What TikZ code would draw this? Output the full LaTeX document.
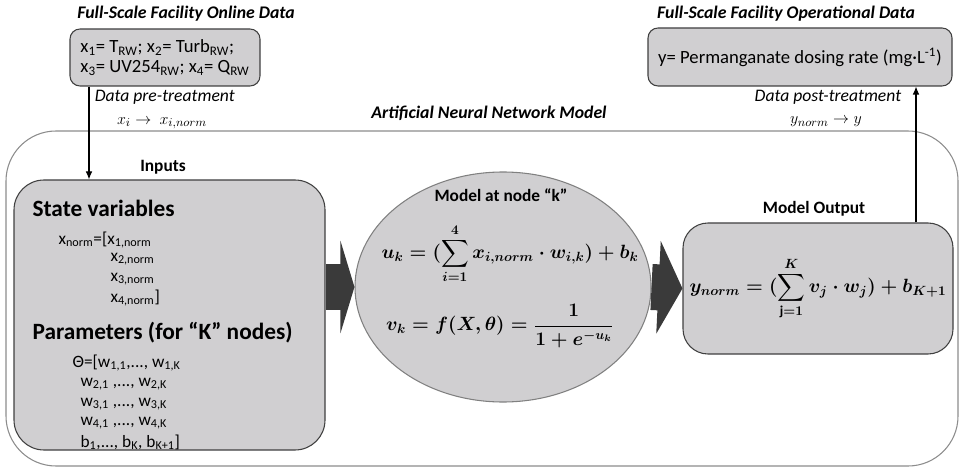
\documentclass[tikz,border=0pt]{standalone}
\usepackage{amsmath}
\usepackage{fontspec}
\setmainfont{Carlito}
\usetikzlibrary{positioning}
\usetikzlibrary{arrows.meta}
\usetikzlibrary{shapes.geometric}
\tikzset{>={Latex[width=5pt,length=6pt]}}

\definecolor{boxgray}{RGB}{208,207,209}
\definecolor{edgegray}{RGB}{64,64,64}
\definecolor{fatgray}{RGB}{58,58,58}
\definecolor{framegray}{RGB}{140,140,140}

\newcommand{\ukeq}{$\displaystyle u_k = (\sum_{i=1}^{4} x_{i,norm}\cdot w_{i,k}) + b_k$}
\newcommand{\vkeq}{$\displaystyle v_k = f(X,\theta) = \frac{1}{1+e^{-u_k}}$}
\newcommand{\ynormeq}{$\displaystyle y_{norm} = (\sum_{\mathrm{j}=1}^{K} v_j\cdot w_j) + b_{K+1}$}

\tikzset{
  databox/.style={draw=edgegray, fill=boxgray, line width=0.8pt, rounded corners=7.5pt, inner sep=0pt},
  head/.style={font=\fontsize{13}{15}\selectfont\bfseries, inner sep=1pt},
  big/.style={font=\fontsize{17.5}{20}\selectfont\bfseries, anchor=west, inner sep=0pt},
  item/.style={font=\fontsize{13}{15}\selectfont, anchor=west, inner sep=0pt},
  title/.style={font=\fontsize{13.3}{15}\selectfont\bfseries\itshape, inner sep=1pt},
  note/.style={font=\fontsize{13.2}{15}\selectfont\itshape, inner sep=1pt},
  eqn/.style={font=\fontsize{14.5}{17}\selectfont\boldmath, inner sep=0pt},
  fat/.style={line width=34.5pt, draw=fatgray, -{Triangle[length=#1,width=69pt]}}
}

\begin{document}
\begin{tikzpicture}[x=0.75pt, y=-0.75pt, line width=0.8pt]
\useasboundingbox (0,0) rectangle (959,470);

% data outside the model
\node (srctitle) [title] at (186,14) {Full-Scale Facility Online Data};
\node (src) [databox, minimum width=142.5pt, minimum height=42.75pt, align=left, font=\fontsize{14}{15}\selectfont] at (165,57.5)
  {x\textsubscript{1}= T\textsubscript{RW}; x\textsubscript{2}= Turb\textsubscript{RW};\\x\textsubscript{3}= UV254\textsubscript{RW}; x\textsubscript{4}= Q\textsubscript{RW}};
\node (dsttitle) [title] at (786,14) {Full-Scale Facility Operational Data};
\node (dst) [databox, minimum width=228pt, minimum height=43.5pt, font=\fontsize{14}{16}\selectfont] at (800,57)
  {y= Permanganate dosing rate (mg·L\textsuperscript{-1})};

\node (pre) [note, anchor=west] at (93,97) {Data pre-treatment};
\node (premath) [font=\fontsize{12.5}{14}\selectfont] at (162,123) {$x_i \rightarrow\ x_{i,norm}$};
\node (post) [note, anchor=east] at (903,97) {Data post-treatment};
\node (postmath) [font=\fontsize{13}{14}\selectfont] at (826,122) {$y_{norm} \rightarrow y$};

% model frame
\node (ann) [draw=framegray, rounded corners=37.5pt, minimum width=714pt, minimum height=251.25pt] at (482,298.5) {};
\node (anntitle) [title] at (489,113) {Artificial Neural Network Model};

% inputs
\node (inp) [databox, rounded corners=22.5pt, minimum width=233.25pt, minimum height=202.5pt] at (169.5,315) {};
\node (inplabel) [head] at (163,167) {Inputs};
\node (state) [big] at (32,208) {State variables};
\node (xn) [item] at (58,240) {x\textsubscript{norm}=[x\textsubscript{1,norm}};
\node (x2) [item] at (110,259) {x\textsubscript{2,norm}};
\node (x3) [item] at (110,279) {x\textsubscript{3,norm}};
\node (x4) [item] at (110,298) {x\textsubscript{4,norm}]};
\node (param) [big] at (32,333) {Parameters (for “K” nodes)};
\node (w1) [item] at (72,363) {Θ=[w\textsubscript{1,1},..., w\textsubscript{1,K}};
\node (w2) [item] at (80,384) {w\textsubscript{2,1} ,..., w\textsubscript{2,K}};
\node (w3) [item] at (80,404) {w\textsubscript{3,1} ,..., w\textsubscript{3,K}};
\node (w4) [item] at (80,423) {w\textsubscript{4,1} ,..., w\textsubscript{4,K}};
\node (bb) [item] at (80,442) {b\textsubscript{1},..., b\textsubscript{K}, b\textsubscript{K+1}]};

% node k
\node (ell) [ellipse, draw=gray, fill=boxgray, minimum width=222pt, minimum height=172.5pt, inner sep=0pt] at (503,287) {};
\node (mk) [head] at (501,195) {Model at node “k”};
\node (uk) [eqn] at (510,254) {\ukeq};
\node (vk) [eqn] at (500,326) {\vkeq};

% output
\node (out) [databox, rounded corners=18.75pt, minimum width=202.5pt, minimum height=98.25pt, eqn] at (818,288.5) {\ynormeq};
\node (outlabel) [head] at (814,209) {Model Output};

\coordinate (prex) at (89,0);
\coordinate (postx) at (916,0);
\path [draw, ->] (src.south -| prex) -- (inp.north -| prex);
\path [draw, ->] (out.north -| postx) -- (dst.south -| postx);
\draw [fat=10.5pt] (inp.east |- ell.west) -- (ell.west);
\draw [fat=18pt] (ell.east) -- (out.west);
\end{tikzpicture}
\end{document}
